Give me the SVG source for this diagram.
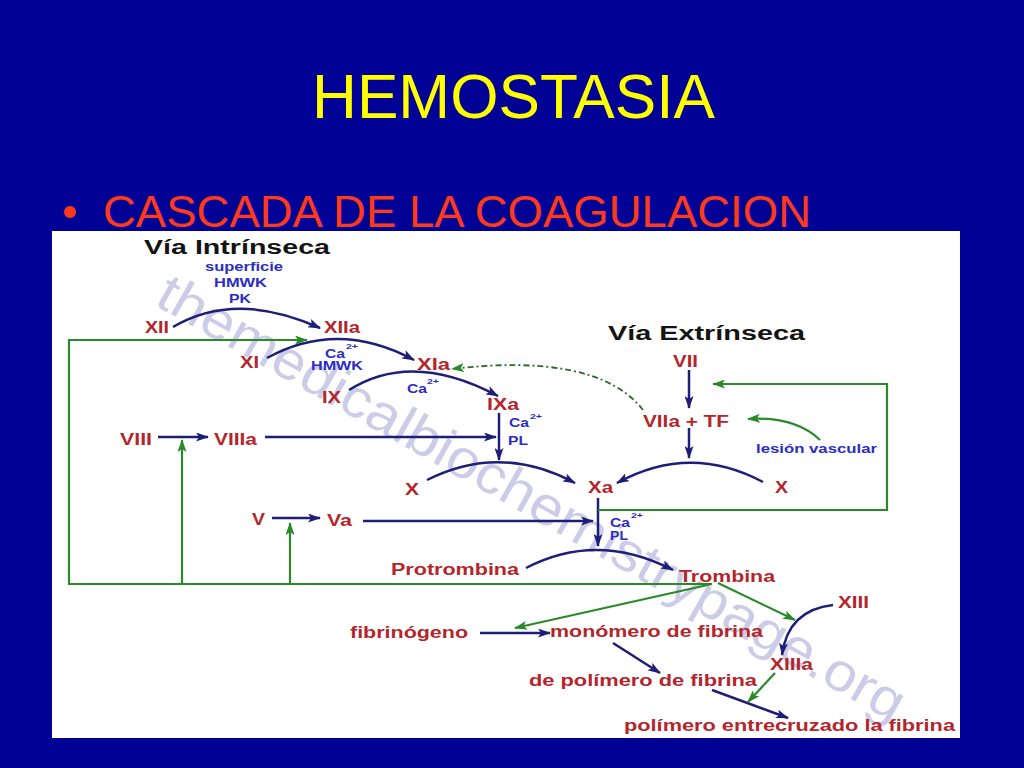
<svg xmlns="http://www.w3.org/2000/svg" width="1024" height="768" viewBox="0 0 1024 768">
<style>
.title{font-family:"Liberation Sans",Arial,sans-serif;fill:#ffff00;font-size:63px}
.bul{font-family:"Liberation Sans",Arial,sans-serif;fill:#ff3a1a;font-size:45px}
.h{font-family:"Liberation Sans",Arial,sans-serif;font-weight:bold;font-size:20px;fill:#141414}
.r{font-family:"Liberation Sans",Arial,sans-serif;font-weight:bold;font-size:16px;fill:#b3262b}
.b{font-family:"Liberation Sans",Arial,sans-serif;font-weight:bold;font-size:12px;fill:#2d2dc4}
.sup{font-family:"Liberation Sans",Arial,sans-serif;font-weight:bold;font-size:8px;fill:#2d2dc4}
.wm{font-family:"Liberation Sans",Arial,sans-serif;font-size:54px;fill:#bcbce2;opacity:0.75}
.n{fill:none;stroke:#1e1e78;stroke-width:2.5}
.g{fill:none;stroke:#2a8a2a;stroke-width:2.2}
.gd{fill:none;stroke:#2a6a2a;stroke-width:1.8;stroke-dasharray:6 3 2 3}
</style>
<defs>
<marker id="an" viewBox="0 0 13 9" refX="12" refY="4.5" markerWidth="13" markerHeight="9" markerUnits="userSpaceOnUse" orient="auto"><path d="M0,0 L13,4.5 L0,9 L3,4.5z" fill="#1e1e78"/></marker>
<marker id="ag" viewBox="0 0 13 9" refX="12" refY="4.5" markerWidth="13" markerHeight="9" markerUnits="userSpaceOnUse" orient="auto"><path d="M0,0 L13,4.5 L0,9 L3,4.5z" fill="#2a8a2a"/></marker>
</defs>
<rect x="0" y="0" width="1024" height="768" fill="#010195"/>
<text class="title" x="312" y="118" textLength="403" lengthAdjust="spacingAndGlyphs">HEMOSTASIA</text>
<circle cx="70" cy="212" r="6" fill="#ff3a1a"/>
<text class="bul" x="103" y="227" textLength="708" lengthAdjust="spacingAndGlyphs">CASCADA DE LA COAGULACION</text>
<rect x="52" y="231" width="908" height="507" fill="#ffffff"/>
<g id="watermark">
<text class="wm" transform="translate(160,292) rotate(29.5)" x="0" y="14" textLength="850" lengthAdjust="spacingAndGlyphs">themedicalbiochemistrypage.org</text>
</g>
<g id="connectors">
<path class="n" d="M173,327 Q236,290 320,328" marker-end="url(#an)"/>
<path class="n" d="M267,358 Q338,319 414,360" marker-end="url(#an)"/>
<path class="n" d="M349,390 Q412,350 498,396" marker-end="url(#an)"/>
<path class="n" d="M499,413 L499,460" marker-end="url(#an)"/>
<path class="n" d="M158,437 L208,437" marker-end="url(#an)"/>
<path class="n" d="M265,437 L496,437" marker-end="url(#an)"/>
<path class="n" d="M427,480 Q500,443 575,483" marker-end="url(#an)"/>
<path class="n" d="M689,370 L689,408" marker-end="url(#an)"/>
<path class="n" d="M689,428 L689,458" marker-end="url(#an)"/>
<path class="n" d="M763,482 Q690,443 617,483" marker-end="url(#an)"/>
<path class="n" d="M598,498 L598,546" marker-end="url(#an)"/>
<path class="n" d="M272,518 L320,518" marker-end="url(#an)"/>
<path class="n" d="M363,521 L593,521" marker-end="url(#an)"/>
<path class="n" d="M526,568 Q597,531 673,570" marker-end="url(#an)"/>
<path class="n" d="M833,605 Q788,610 782,655" marker-end="url(#an)"/>
<path class="n" d="M480,633 L550,633" marker-end="url(#an)"/>
<path class="n" d="M613,643 L660,673" marker-end="url(#an)"/>
<path class="n" d="M712,690 L788,718" marker-end="url(#an)"/>
<path class="g" d="M712,584 L69,584 L69,340 L307,340" marker-end="url(#ag)"/>
<path class="g" d="M182,584 L182,440" marker-end="url(#ag)"/>
<path class="g" d="M290,584 L290,523" marker-end="url(#ag)"/>
<path class="g" d="M598,510 L887,510 L887,384 L713,384" marker-end="url(#ag)"/>
<path class="g" d="M820,440 Q795,416 748,419" marker-end="url(#ag)"/>
<path class="gd" d="M643,410 C612,370 545,358 452,369" marker-end="url(#ag)"/>
<path class="g" d="M712,584 L515,628" marker-end="url(#ag)"/>
<path class="g" d="M718,583 L795,620" marker-end="url(#ag)"/>
<path class="g" d="M775,673 L748,702" marker-end="url(#ag)"/>
</g>
<g id="headings">
<text class="h" x="144" y="254" textLength="186" lengthAdjust="spacingAndGlyphs">Vía Intrínseca</text>
<text class="h" x="608" y="340" textLength="197" lengthAdjust="spacingAndGlyphs">Vía Extrínseca</text>
</g>
<g id="n-XII"><text class="r" x="145" y="333" textLength="24" lengthAdjust="spacingAndGlyphs">XII</text></g>
<g id="n-XIIa"><text class="r" x="324" y="333" textLength="36" lengthAdjust="spacingAndGlyphs">XIIa</text></g>
<g id="n-XI"><text class="r" x="240" y="368" textLength="19" lengthAdjust="spacingAndGlyphs">XI</text></g>
<g id="n-XIa"><text class="r" x="417" y="370" textLength="33" lengthAdjust="spacingAndGlyphs">XIa</text></g>
<g id="n-IX"><text class="r" x="322" y="403" textLength="19" lengthAdjust="spacingAndGlyphs">IX</text></g>
<g id="n-IXa"><text class="r" x="487" y="410" textLength="32" lengthAdjust="spacingAndGlyphs">IXa</text></g>
<g id="n-VIII"><text class="r" x="120" y="445" textLength="32" lengthAdjust="spacingAndGlyphs">VIII</text></g>
<g id="n-VIIIa"><text class="r" x="214" y="445" textLength="43" lengthAdjust="spacingAndGlyphs">VIIIa</text></g>
<g id="n-X1"><text class="r" x="405" y="495" textLength="14" lengthAdjust="spacingAndGlyphs">X</text></g>
<g id="n-Xa"><text class="r" x="588" y="493" textLength="25" lengthAdjust="spacingAndGlyphs">Xa</text></g>
<g id="n-X2"><text class="r" x="775" y="493" textLength="13" lengthAdjust="spacingAndGlyphs">X</text></g>
<g id="n-VII"><text class="r" x="673" y="367" textLength="25" lengthAdjust="spacingAndGlyphs">VII</text></g>
<g id="n-VIIaTF"><text class="r" x="643" y="427" textLength="86" lengthAdjust="spacingAndGlyphs">VIIa + TF</text></g>
<g id="n-V"><text class="r" x="252" y="525" textLength="13" lengthAdjust="spacingAndGlyphs">V</text></g>
<g id="n-Va"><text class="r" x="327" y="526" textLength="25" lengthAdjust="spacingAndGlyphs">Va</text></g>
<g id="n-protrombina"><text class="r" x="391" y="575" textLength="128" lengthAdjust="spacingAndGlyphs">Protrombina</text></g>
<g id="n-trombina"><text class="r" x="679" y="582" textLength="96" lengthAdjust="spacingAndGlyphs">Trombina</text></g>
<g id="n-XIII"><text class="r" x="838" y="608" textLength="31" lengthAdjust="spacingAndGlyphs">XIII</text></g>
<g id="n-XIIIa"><text class="r" x="770" y="670" textLength="43" lengthAdjust="spacingAndGlyphs">XIIIa</text></g>
<g id="n-fibrinogeno"><text class="r" x="350" y="638" textLength="118" lengthAdjust="spacingAndGlyphs">fibrinógeno</text></g>
<g id="n-monomero"><text class="r" x="550" y="637" textLength="213" lengthAdjust="spacingAndGlyphs">monómero de fibrina</text></g>
<g id="n-polimero"><text class="r" x="529" y="686" textLength="228" lengthAdjust="spacingAndGlyphs">de polímero de fibrina</text></g>
<g id="n-entrecruzado"><text class="r" x="624" y="731" textLength="331" lengthAdjust="spacingAndGlyphs">polímero entrecruzado la fibrina</text></g>
<g id="cofactors">
<text class="b" x="205" y="271" textLength="78" lengthAdjust="spacingAndGlyphs">superficie</text>
<text class="b" x="214" y="287" textLength="53" lengthAdjust="spacingAndGlyphs">HMWK</text>
<text class="b" x="229" y="303" textLength="22" lengthAdjust="spacingAndGlyphs">PK</text>
<text class="b" x="325" y="358" textLength="20" lengthAdjust="spacingAndGlyphs">Ca</text>
<text class="sup" x="346" y="349" textLength="12" lengthAdjust="spacingAndGlyphs">2+</text>
<text class="b" x="311" y="370" textLength="52" lengthAdjust="spacingAndGlyphs">HMWK</text>
<text class="b" x="407" y="393" textLength="20" lengthAdjust="spacingAndGlyphs">Ca</text>
<text class="sup" x="427" y="384" textLength="12" lengthAdjust="spacingAndGlyphs">2+</text>
<text class="b" x="509" y="427" textLength="20" lengthAdjust="spacingAndGlyphs">Ca</text>
<text class="sup" x="530" y="419" textLength="12" lengthAdjust="spacingAndGlyphs">2+</text>
<text class="b" x="508" y="445" textLength="20" lengthAdjust="spacingAndGlyphs">PL</text>
<text class="b" x="756" y="453" textLength="121" lengthAdjust="spacingAndGlyphs">lesión vascular</text>
<text class="b" x="610" y="527" textLength="20" lengthAdjust="spacingAndGlyphs">Ca</text>
<text class="sup" x="631" y="518" textLength="12" lengthAdjust="spacingAndGlyphs">2+</text>
<text class="b" x="610" y="540" textLength="18" lengthAdjust="spacingAndGlyphs">PL</text>
</g>
</svg>
